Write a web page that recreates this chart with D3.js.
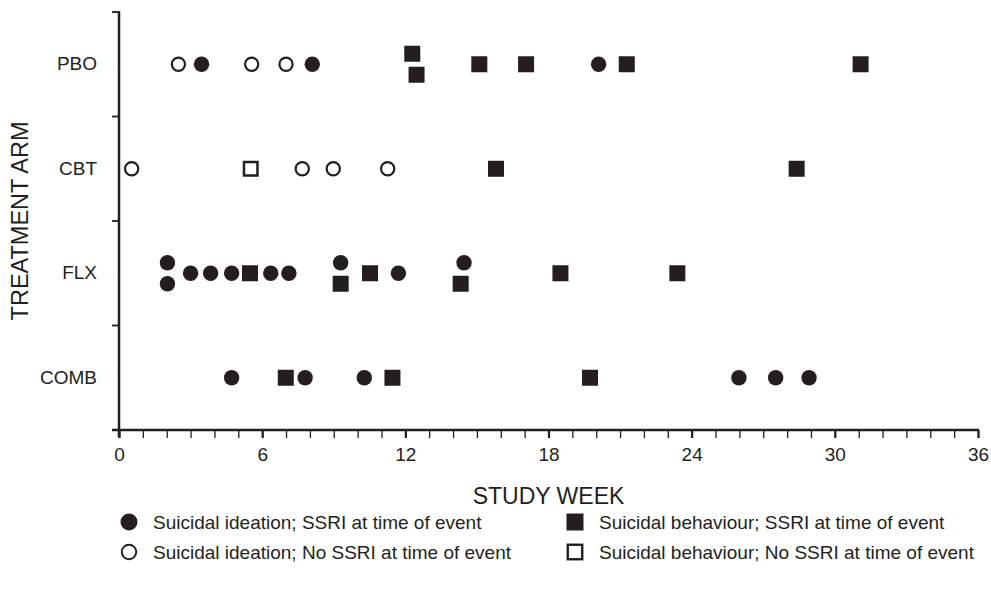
<!DOCTYPE html>
<html><head><meta charset="utf-8">
<script src="https://cdn.jsdelivr.net/npm/d3@7"></script>
<style>
body{margin:0;background:#fff;}
svg text{font-family:"Liberation Sans",Arial,sans-serif;fill:#231f20;}
</style></head>
<body><svg id="c" width="991" height="594"></svg>
<script>
const arms = ["PBO","CBT","FLX","COMB"];
const xTicks = [0,6,12,18,24,30,36];
const ideationSSRI = [["PBO",3.46],["PBO",8.1],["PBO",20.1],
  ["FLX",2.03],["FLX",2.03],["FLX",3.0],["FLX",3.84],["FLX",4.72],["FLX",6.36],["FLX",7.12],["FLX",9.29],["FLX",11.71],["FLX",14.46],
  ["COMB",4.72],["COMB",7.8],["COMB",10.28],["COMB",25.98],["COMB",27.52],["COMB",28.92]];
const ideationNoSSRI = [["PBO",2.49],["PBO",5.56],["PBO",7.0],
  ["CBT",0.53],["CBT",7.68],["CBT",8.98],["CBT",11.26]];
const behaviourSSRI = [["PBO",12.29],["PBO",12.47],["PBO",15.1],["PBO",17.06],["PBO",21.28],["PBO",31.08],
  ["CBT",15.8],["CBT",28.4],
  ["FLX",5.49],["FLX",9.29],["FLX",10.52],["FLX",14.32],["FLX",18.5],["FLX",23.4],
  ["COMB",6.99],["COMB",11.46],["COMB",19.74]];
const behaviourNoSSRI = [["CBT",5.52]];
const legendLabels = ["Suicidal ideation; SSRI at time of event","Suicidal behaviour; SSRI at time of event",
  "Suicidal ideation; No SSRI at time of event","Suicidal behaviour; No SSRI at time of event"];

const ink = "#231f20";
const FF = "'Liberation Sans',Arial,sans-serif";
const svg = d3.select("#c");
const L=119, R=978, T=12, B=430;
const x = d3.scaleLinear().domain([0,36]).range([L,R]);
const y = d3.scaleBand().domain(arms).range([T,B]);

// events
const series = [
  {data:ideationSSRI, shape:"circle", fill:true, order:0},
  {data:ideationNoSSRI, shape:"circle", fill:false, order:0},
  {data:behaviourSSRI, shape:"square", fill:true, order:1},
  {data:behaviourNoSSRI, shape:"square", fill:false, order:1}
];
let events = [];
series.forEach(s=>s.data.forEach(d=>events.push({arm:d[0],week:d[1],shape:s.shape,fill:s.fill,order:s.order})));
// stacking of near-coincident events
arms.forEach(a=>{
  const ev = events.filter(e=>e.arm===a).sort((p,q)=>p.week-q.week);
  let groups=[];
  ev.forEach(e=>{
    const g = groups[groups.length-1];
    if(g && Math.abs(e.week-g[0].week)<0.5) g.push(e); else groups.push([e]);
  });
  groups.forEach(g=>{
    g.sort((p,q)=>p.order-q.order||p.week-q.week);
    g.forEach((e,i)=>e.off = g.length>1 ? (i-(g.length-1)/2)*21 : 0);
  });
});
const cy = e=>y(e.arm)+y.bandwidth()/2+e.off;
const g = svg.append("g");
events.forEach(e=>{
  if(e.shape==="circle"){
    g.append("circle").attr("cx",x(e.week)).attr("cy",cy(e))
      .attr("r", e.fill?7.7:6.6)
      .attr("fill", e.fill?ink:"#fff").attr("stroke",ink).attr("stroke-width", e.fill?0:2.2);
  } else {
    const s = e.fill?16:13.5;
    g.append("rect").attr("x",x(e.week)-s/2).attr("y",cy(e)-s/2).attr("width",s).attr("height",s)
      .attr("fill", e.fill?ink:"#fff").attr("stroke",ink).attr("stroke-width", e.fill?0:2.5);
  }
});

// x axis
const xMinor = svg.append("g").attr("transform",`translate(0,${B})`)
  .call(d3.axisBottom(x).tickValues(d3.range(0,37)).tickSize(8).tickFormat(""));
xMinor.select(".domain").remove();
xMinor.selectAll("line").attr("stroke",ink).attr("stroke-width",1.3);
const xMajor = svg.append("g").attr("transform",`translate(0,${B})`)
  .call(d3.axisBottom(x).tickValues(xTicks).tickSize(8).tickPadding(10));
xMajor.select(".domain").remove();
xMajor.selectAll("line").attr("stroke",ink).attr("stroke-width",2.2);
xMajor.selectAll("text").attr("font-size",19).attr("fill",ink).style("font-family",FF);
svg.append("line").attr("x1",L-7).attr("x2",R+1).attr("y1",B).attr("y2",B).attr("stroke",ink).attr("stroke-width",2.5);

// y axis
const edges = arms.map(a=>y(a));
svg.append("g").selectAll("line").data(edges).join("line")
  .attr("x1",L-7).attr("x2",L).attr("y1",d=>d).attr("y2",d=>d).attr("stroke",ink).attr("stroke-width",1.8);
svg.append("line").attr("x1",L).attr("x2",L).attr("y1",T-1).attr("y2",B+7).attr("stroke",ink).attr("stroke-width",2.5);
const yAx = svg.append("g").attr("transform",`translate(${L},0)`)
  .call(d3.axisLeft(y).tickSize(0).tickPadding(22));
yAx.select(".domain").remove();
yAx.selectAll("text").attr("font-size",19).attr("fill",ink).style("font-family",FF);

// titles
svg.append("text").attr("x",(L+R)/2).attr("y",504).attr("text-anchor","middle")
  .attr("font-size",23).text("STUDY WEEK");
svg.append("text").attr("transform",`translate(28,${(T+B)/2}) rotate(-90)`).attr("text-anchor","middle")
  .attr("font-size",23.5).text("TREATMENT ARM");

// legend
const lg = svg.append("g");
const legItems = [
  {x:129, y:522, shape:"circle", fill:true, label:legendLabels[0]},
  {x:575, y:522, shape:"square", fill:true, label:legendLabels[1]},
  {x:129, y:552, shape:"circle", fill:false, label:legendLabels[2]},
  {x:575, y:552, shape:"square", fill:false, label:legendLabels[3]}
];
legItems.forEach(it=>{
  if(it.shape==="circle"){
    lg.append("circle").attr("cx",it.x).attr("cy",it.y).attr("r",it.fill?8.5:7.2)
      .attr("fill",it.fill?ink:"#fff").attr("stroke",ink).attr("stroke-width",it.fill?0:2);
  } else {
    const s = it.fill?17:14.5;
    lg.append("rect").attr("x",it.x-s/2).attr("y",it.y-s/2).attr("width",s).attr("height",s)
      .attr("fill",it.fill?ink:"#fff").attr("stroke",ink).attr("stroke-width",it.fill?0:2.4);
  }
  lg.append("text").attr("x",it.x+24).attr("y",it.y).attr("dy","0.35em").attr("font-size",19).text(it.label);
});
</script></body></html>
